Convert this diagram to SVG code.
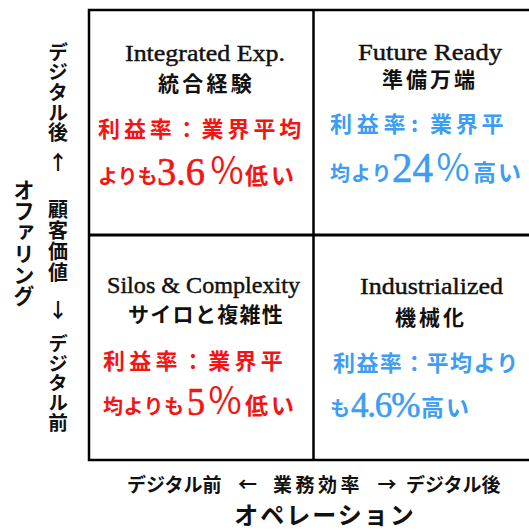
<svg xmlns="http://www.w3.org/2000/svg" width="529" height="531" viewBox="0 0 529 531">
<style>
.ln{stroke:#000;stroke-width:2.5;fill:none}
.en{font-family:"Liberation Serif",serif;font-size:24px;fill:#111;stroke:#111;stroke-width:0.45px}
.jt{font-family:"Noto Sans CJK JP",sans-serif;font-size:21px;fill:#111;font-weight:bold}
.ax{font-family:"Noto Sans CJK JP",sans-serif;font-weight:bold;fill:#111;text-anchor:middle}
.vt{font-family:"Noto Sans CJK JP",sans-serif;font-weight:bold;fill:#111;writing-mode:vertical-rl;text-orientation:upright}
.red{fill:#f41414}
.blu{fill:#3d9df3}
.j{font-family:"Noto Sans CJK JP",sans-serif;font-weight:bold}
.pc{font-family:"Noto Sans CJK JP",sans-serif;font-weight:normal;font-size:36px;text-anchor:middle}
.num{font-family:"Liberation Serif",serif;stroke-width:0.6px}
.red.num{stroke:#f41414}
.blu .num,.blu.num{stroke:#3d9df3}
</style>
<rect width="529" height="531" fill="#fff"/>
<g id="grid">
<rect class="ln" x="89" y="10" width="460" height="450"/>
<line class="ln" x1="313.5" y1="10" x2="313.5" y2="460"/>
<line class="ln" x1="89" y1="235" x2="549" y2="235" style="stroke-width:3"/>
</g>
<g id="connectors"></g>
<g id="q-integrated">
<text class="en" x="125" y="61" textLength="160" lengthAdjust="spacingAndGlyphs">Integrated Exp.</text>
<text class="jt" x="158" y="90.5" letter-spacing="3.25">統合経験</text>
<text class="j red" x="98" y="136.5" font-size="22" letter-spacing="3.9">利益率：業界平均</text>
<text class="j red" x="98" y="184" font-size="20">よりも</text>
<text class="num red" x="157" y="185" font-size="40" textLength="48" lengthAdjust="spacingAndGlyphs">3.6</text>
<text class="pc red" x="227" y="184">％</text>
<text class="j red" x="245" y="184" font-size="23" letter-spacing="3">低い</text>
</g>
<g id="q-future">
<text class="en" x="358" y="60" textLength="144" lengthAdjust="spacingAndGlyphs">Future Ready</text>
<text class="jt" x="382" y="86.5" letter-spacing="3">準備万端</text>
<text class="j blu" x="330" y="131.5" font-size="22" letter-spacing="4.7">利益率</text>
<text class="j blu" x="411" y="131.5" font-size="22">:</text>
<text class="j blu" x="430" y="131.5" font-size="22" letter-spacing="3.7">業界平</text>
<text class="j blu" x="330" y="181" font-size="20" letter-spacing="1">均より</text>
<text class="num blu" x="392" y="182" font-size="42" textLength="41" lengthAdjust="spacingAndGlyphs">24</text>
<text class="pc blu" x="453" y="181">％</text>
<text class="j blu" x="473" y="181" font-size="23" letter-spacing="2">高い</text>
</g>
<g id="q-silos">
<text class="en" x="107" y="293" textLength="193" lengthAdjust="spacingAndGlyphs">Silos &amp; Complexity</text>
<text class="jt" x="128" y="321.5" font-size="20" letter-spacing="1.3">サイロと複雑性</text>
<text class="j red" x="103" y="368.5" font-size="22" letter-spacing="4.3">利益率：業界平</text>
<text class="j red" x="103" y="414" font-size="20" letter-spacing="0.5">均よりも</text>
<text class="num red" x="187" y="415" font-size="40" textLength="18" lengthAdjust="spacingAndGlyphs">5</text>
<text class="pc red" x="225" y="414">％</text>
<text class="j red" x="245" y="414" font-size="23" letter-spacing="3">低い</text>
</g>
<g id="q-industrialized">
<text class="en" x="360" y="294" textLength="143" lengthAdjust="spacingAndGlyphs">Industrialized</text>
<text class="jt" x="395" y="325" letter-spacing="3">機械化</text>
<text class="j blu" x="333" y="370.5" font-size="22" letter-spacing="1.4">利益率：平均より</text>
<text class="blu" y="416"><tspan class="j" x="330" font-size="20">も</tspan><tspan class="num" x="351" y="417" font-size="35" letter-spacing="-1.2">4.6%</tspan><tspan class="j" x="421" y="416" font-size="23" letter-spacing="2">高い</tspan></text>
</g>
<g id="axis-y">
<text class="vt" x="58" y="42" font-size="20">デジタル後</text>
<text class="ax" x="58" y="170" font-size="20">↑</text>
<text class="vt" x="58" y="199" font-size="20" letter-spacing="1">顧客価値</text>
<text class="ax" x="58" y="318" font-size="20">↓</text>
<text class="vt" x="58" y="334" font-size="19.6">デジタル前</text>
<text class="vt" x="24" y="179" font-size="21.3">オファリング</text>
</g>
<g id="axis-x">
<text class="ax" font-size="19" y="492" style="text-anchor:start">
<tspan x="127">デジタル前</tspan><tspan x="273" letter-spacing="3.5">業務効率</tspan><tspan x="406">デジタル後</tspan>
</text>
<text class="ax" font-size="19" x="247.5" y="492">←</text>
<text class="ax" font-size="19" x="387" y="492">→</text>
<text class="ax" font-size="24" x="325" y="524" letter-spacing="2">オペレーション</text>
</g>
</svg>
